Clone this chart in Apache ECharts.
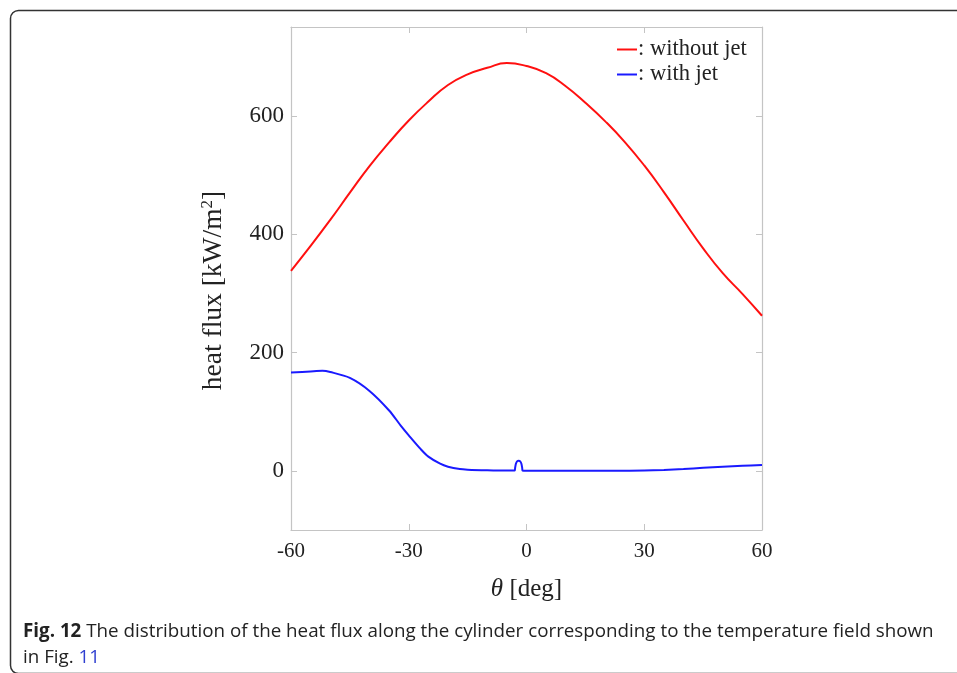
<!DOCTYPE html>
<html>
<head>
<meta charset="utf-8">
<script src="https://cdn.jsdelivr.net/npm/echarts@6/dist/echarts.min.js"></script>
<style>html,body{margin:0;padding:0;background:#fff}#c{width:957px;height:673px}</style>
</head>
<body>
<div id="c"></div>
<script>
const thetaRed = [-60,-55,-50,-45,-40,-35,-30,-25,-20,-15,-10,-5,0,5,10,15,20,25,30,35,40,45,50,55,60];
const fluxRed  = [338,380,424,470,515,555,592,624,652,670,681,689,684,672,650,622,591,556,516,471,423,376,334,299,262];
const thetaBlue = [-60,-55,-52,-50,-45,-40,-35,-32,-30,-27,-25,-22,-20,-17,-15,-10,-5,-3,-2.9,-2.7,-2.4,-2.0,-1.6,-1.3,-1.1,-1.0,0,10,20,25,30,35,40,45,50,55,60];
const fluxBlue  = [166,168,169,167,157,135,102,76,60,37,24,12,7,3,2,1,0.5,0.5,5,12,16,17,16,12,5,0.5,0,0,0,0.2,0.5,1.5,3,5,7,8.5,10];
const xTicks = [-60,-30,0,30,60];
const yTicks = [0,200,400,600];
const seriesNames = ['without jet','with jet'];

const chart = echarts.init(document.getElementById('c'), null, {renderer:'canvas'});
const serif = 'Liberation Serif';
const frame = '#c4c4c4';
const pair = (xs, ys) => xs.map((x,i)=>[x, ys[i]]);

chart.setOption({
  animation:false,
  backgroundColor:'#fff',
  grid:{left:291, right:195, top:27, bottom:143, show:false},
  legend:{
    orient:'vertical', left:612, top:33, itemGap:2,
    itemWidth:20, itemHeight:2, icon:'rect',
    formatter: n => ': ' + n,
    textStyle:{fontFamily:serif, fontSize:22.5, color:'#222', padding:[0,0,0,-4]},
    data: seriesNames
  },
  xAxis:[{
    type:'value', min:-60, max:60, interval:30,
    axisLine:{show:true, onZero:false, lineStyle:{color:frame, width:1.2}},
    axisTick:{show:true, inside:true, length:6, lineStyle:{color:frame}},
    axisLabel:{fontFamily:serif, fontSize:21, color:'#222', margin:11, formatter: v => String(v)},
    splitLine:{show:false},
    name:'{i|θ} [deg]', nameLocation:'middle', nameGap:47,
    nameTextStyle:{fontFamily:serif, fontSize:25, color:'#222', rich:{i:{fontStyle:'italic', fontFamily:serif, fontSize:25, color:'#222'}}}
  },{
    type:'value', position:'top', min:-60, max:60, interval:30,
    axisLine:{show:true, onZero:false, lineStyle:{color:frame, width:1.2}},
    axisTick:{show:true, inside:true, length:6, lineStyle:{color:frame}},
    axisLabel:{show:false}, splitLine:{show:false}
  }],
  yAxis:[{
    type:'value', min:-100, max:750,
    axisLine:{show:true, onZero:false, lineStyle:{color:frame, width:1.2}},
    axisTick:{show:true, inside:true, length:6, lineStyle:{color:frame}, customValues: yTicks},
    axisLabel:{fontFamily:serif, fontSize:23, color:'#222', margin:7, customValues: yTicks},
    splitLine:{show:false},
    name:'heat flux [kW/m{s|2}]', nameLocation:'middle', nameGap:63, nameRotate:90,
    nameTextStyle:{fontFamily:serif, fontSize:27.5, color:'#222', padding:[0,24,0,0],
      rich:{s:{fontFamily:serif, fontSize:17, color:'#222', verticalAlign:'top', padding:[0,0,12,0]}}}
  },{
    type:'value', position:'right', min:-100, max:750,
    axisLine:{show:true, onZero:false, lineStyle:{color:frame, width:1.2}},
    axisTick:{show:true, inside:true, length:6, lineStyle:{color:frame}, customValues: yTicks},
    axisLabel:{show:false}, splitLine:{show:false}
  }],
  series:[{
    name:seriesNames[0], type:'line', data:pair(thetaRed, fluxRed),
    smooth:0.5, showSymbol:false,
    lineStyle:{color:'#ff1010', width:2}, itemStyle:{color:'#ff1010'}
  },{
    name:seriesNames[1], type:'line', data:pair(thetaBlue, fluxBlue),
    smooth:0.3, showSymbol:false,
    lineStyle:{color:'#1a1aff', width:2}, itemStyle:{color:'#1a1aff'}
  }],
  graphic:[{
    type:'rect', left:8, top:8, silent:true,
    shape:{width:980, height:663, r:8},
    style:{fill:'none', stroke:'#333', lineWidth:1.5}
  },{
    type:'text', left:23, top:619,
    style:{
      text:'{b|Fig. 12} The distribution of the heat flux along the cylinder corresponding to the temperature field shown\nin Fig. {l|11}',
      fontFamily:'Open Sans', fontSize:18.8, fill:'#222', lineHeight:26,
      rich:{
        b:{fontWeight:'bold', fontFamily:'Open Sans', fontSize:18.8, fill:'#222'},
        l:{fontFamily:'Open Sans', fontSize:18.8, fill:'#2f3fd0'}
      }
    }
  }]
});
</script>
</body>
</html>
